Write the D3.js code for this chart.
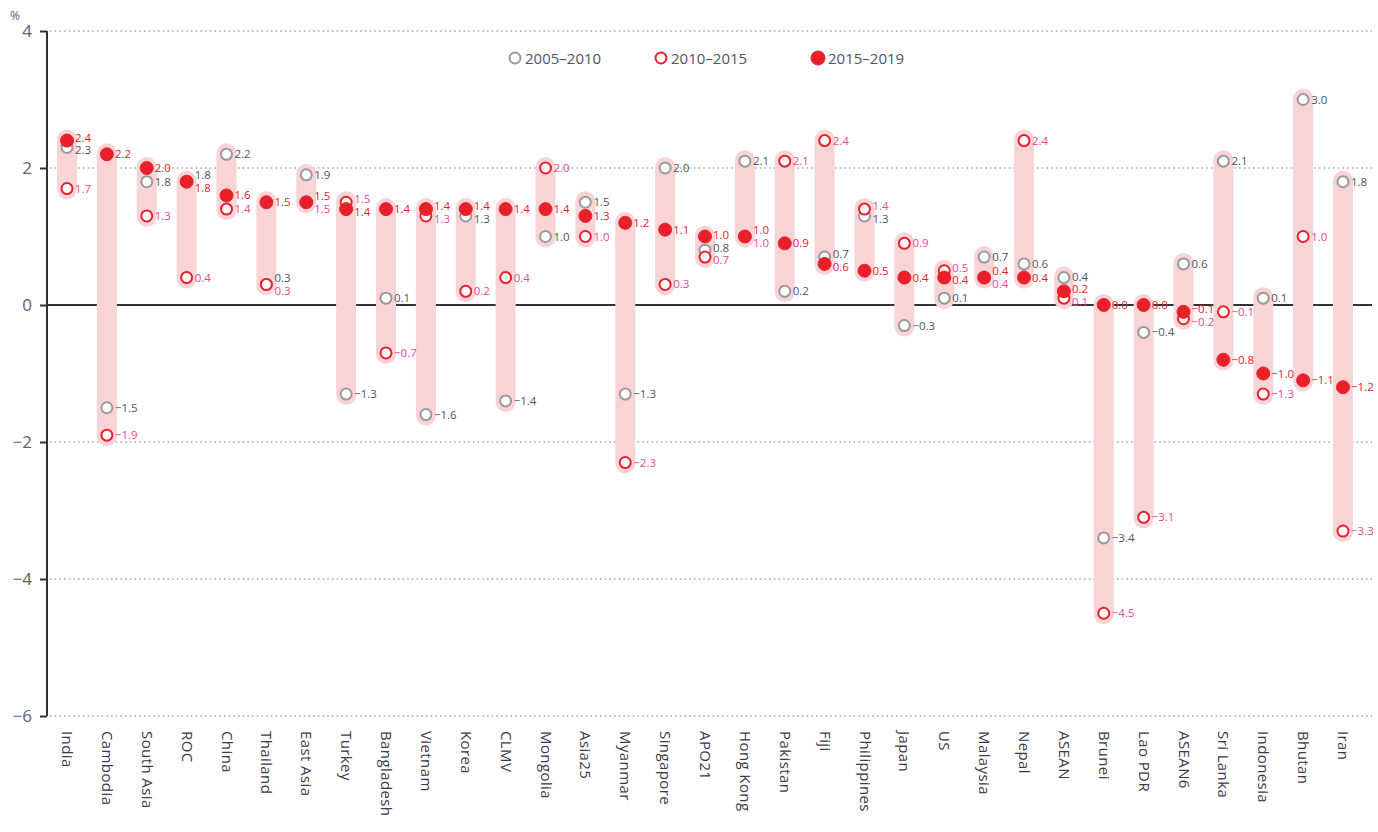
<!DOCTYPE html>
<html>
<head>
  <meta http-equiv="Content-Type" content="text/html; charset=UTF-8">
  <script src="https://d3js.org/d3.v7.min.js"></script>
  <style>
    body { margin:0; background:#fff; }
    svg text { font-family: "Liberation Sans Narrow", "Open Sans", sans-serif; }
  </style>
</head>
<body>
  <svg width="1378" height="832"></svg>
  <script>
    var categories = ["India","Cambodia","South Asia","ROC","China","Thailand","East Asia","Turkey",
      "Bangladesh","Vietnam","Korea","CLMV","Mongolia","Asia25","Myanmar","Singapore","APO21",
      "Hong Kong","Pakistan","Fiji","Philippines","Japan","US","Malaysia","Nepal","ASEAN","Brunei",
      "Lao PDR","ASEAN6","Sri Lanka","Indonesia","Bhutan","Iran"];

    var p2005_2010 = [2.3,-1.5,1.8,1.8,2.2,0.3,1.9,-1.3,0.1,-1.6,1.3,-1.4,1.0,1.5,-1.3,2.0,0.8,
      2.1,0.2,0.7,1.3,-0.3,0.1,0.7,0.6,0.4,-3.4,-0.4,0.6,2.1,0.1,3.0,1.8];
    var p2010_2015 = [1.7,-1.9,1.3,0.4,1.4,0.3,1.5,1.5,-0.7,1.3,0.2,0.4,2.0,1.0,-2.3,0.3,0.7,
      1.0,2.1,2.4,1.4,0.9,0.5,0.4,2.4,0.1,-4.5,-3.1,-0.2,-0.1,-1.3,1.0,-3.3];
    var p2015_2019 = [2.4,2.2,2.0,1.8,1.6,1.5,1.5,1.4,1.4,1.4,1.4,1.4,1.4,1.3,1.2,1.1,1.0,
      1.0,0.9,0.6,0.5,0.4,0.4,0.4,0.4,0.2,0.0,0.0,-0.1,-0.8,-1.0,-1.1,-1.2];

    var yTicks = [4, 2, 0, -2, -4, -6];
    var seriesNames = ["2005\u20132010", "2010\u20132015", "2015\u20132019"];

    var series = [
      { name: seriesNames[0], values: p2005_2010, stroke: "#9a9a9a", fill: "#fff", label: "#4d5566", order: 0 },
      { name: seriesNames[1], values: p2010_2015, stroke: "#e8202a", fill: "#fff", label: "#e8479a", order: 2 },
      { name: seriesNames[2], values: p2015_2019, stroke: "#e8202a", fill: "#e8202a", label: "#e8202a", order: 1 }
    ];

    var svg = d3.select("svg");
    var plotLeft = 47, plotRight = 1372, plotTop = 31, plotBottom = 716;

    var x = d3.scalePoint().domain(categories).range([67, 1343]);
    var y = d3.scaleLinear().domain([-6, 4]).range([plotBottom, plotTop]);

    var fmt = function(v) {
      var s = d3.format(".1f")(Math.abs(v));
      return (v < 0 ? "\u2212" : "") + s;
    };

    // dotted grid lines
    svg.append("g").selectAll("line")
      .data(yTicks.filter(function(d) { return d != 0; }))
      .enter().append("line")
      .attr("x1", plotLeft + 3).attr("x2", plotRight)
      .attr("y1", function(d) { return y(d); })
      .attr("y2", function(d) { return y(d); })
      .attr("stroke", "#777").attr("stroke-width", 1.2)
      .attr("stroke-dasharray", "1.5,3.2");

    // zero line
    svg.append("line")
      .attr("x1", plotLeft).attr("x2", plotRight)
      .attr("y1", y(0)).attr("y2", y(0))
      .attr("stroke", "#333").attr("stroke-width", 2);

    // y axis
    var yAxis = d3.axisLeft(y).tickValues(yTicks).tickSize(7)
      .tickFormat(function(d) { return d < 0 ? "\u2212" + Math.abs(d) : d; });
    var ga = svg.append("g").attr("transform", "translate(" + plotLeft + ",0)").call(yAxis);
    ga.select(".domain").attr("stroke", "#333").attr("stroke-width", 2).attr("d", "M0," + plotTop + "V" + plotBottom);
    ga.selectAll(".tick line").attr("stroke", "#333").attr("stroke-width", 2);
    ga.selectAll(".tick text").attr("x", -15).attr("fill", "#5a6275")
      .style("font-size", "17px");

    svg.append("text").attr("x", 10).attr("y", 20).attr("fill", "#5a6275")
      .style("font-size", "12px").text("%");

    // range bars
    var rows = categories.map(function(c, i) {
      var vals = series.map(function(s) { return s.values[i]; });
      return { cat: c, i: i, min: d3.min(vals), max: d3.max(vals) };
    });

    svg.append("g").selectAll("rect")
      .data(rows)
      .enter().append("rect")
      .attr("x", function(d) { return x(d.cat) - 10; })
      .attr("width", 20)
      .attr("y", function(d) { return y(d.max) - 11; })
      .attr("height", function(d) { return y(d.min) - y(d.max) + 22; })
      .attr("rx", 10)
      .attr("fill", "#f9d4d7");

    // dots
    series.forEach(function(s) {
      svg.append("g").selectAll("circle")
        .data(categories)
        .enter().append("circle")
        .attr("cx", function(d) { return x(d); })
        .attr("cy", function(d, i) { return y(s.values[i]); })
        .attr("r", s.fill == "#fff" ? 5.5 : 6.5)
        .attr("fill", s.fill)
        .attr("stroke", s.stroke)
        .attr("stroke-width", s.fill == "#fff" ? 2 : 1);
    });

    // value labels, pushed apart where they collide
    var labels = [];
    var minGap = 12.5;
    rows.forEach(function(r) {
      var ls = series.map(function(s) {
        return { cat: r.cat, v: s.values[r.i], y: y(s.values[r.i]), color: s.label, order: s.order };
      });
      ls.sort(function(a, b) { return (a.y - b.y) || (a.order - b.order); });
      for (var k = 0; k < 30; k++) {
        for (var j = 1; j < ls.length; j++) {
          var gap = ls[j].y - ls[j - 1].y;
          if (gap < minGap) {
            var push = (minGap - gap) / 2;
            ls[j].y += push;
            ls[j - 1].y -= push;
          }
        }
      }
      labels = labels.concat(ls);
    });

    svg.append("g").selectAll("text")
      .data(labels)
      .enter().append("text")
      .attr("x", function(d) { return x(d.cat) + 8; })
      .attr("y", function(d) { return d.y + 4; })
      .attr("fill", function(d) { return d.color; })
      .style("font-size", "11.5px")
      .text(function(d) { return fmt(d.v); });

    // category labels
    svg.append("g").selectAll("text")
      .data(categories)
      .enter().append("text")
      .attr("transform", function(d) { return "translate(" + (x(d) - 5) + "," + 731 + ") rotate(90)"; })
      .attr("fill", "#3a3a4a")
      .style("font-size", "15px")
      .style("letter-spacing", "0.4px")
      .text(function(d) { return d; });

    // legend
    var legendX = [515, 661, 818];
    var lg = svg.append("g").selectAll("g")
      .data(series)
      .enter().append("g")
      .attr("transform", function(d, i) { return "translate(" + legendX[i] + ",58)"; });
    lg.append("circle")
      .attr("r", function(d) { return d.fill == "#fff" ? 5.5 : 7; })
      .attr("fill", function(d) { return d.fill; })
      .attr("stroke", function(d) { return d.stroke; })
      .attr("stroke-width", function(d) { return d.fill == "#fff" ? 2 : 1; });
    lg.append("text")
      .attr("x", 10).attr("y", 5.5)
      .attr("fill", "#4d5566")
      .style("font-size", "15px")
      .text(function(d) { return d.name; });
  </script>
</body>
</html>
